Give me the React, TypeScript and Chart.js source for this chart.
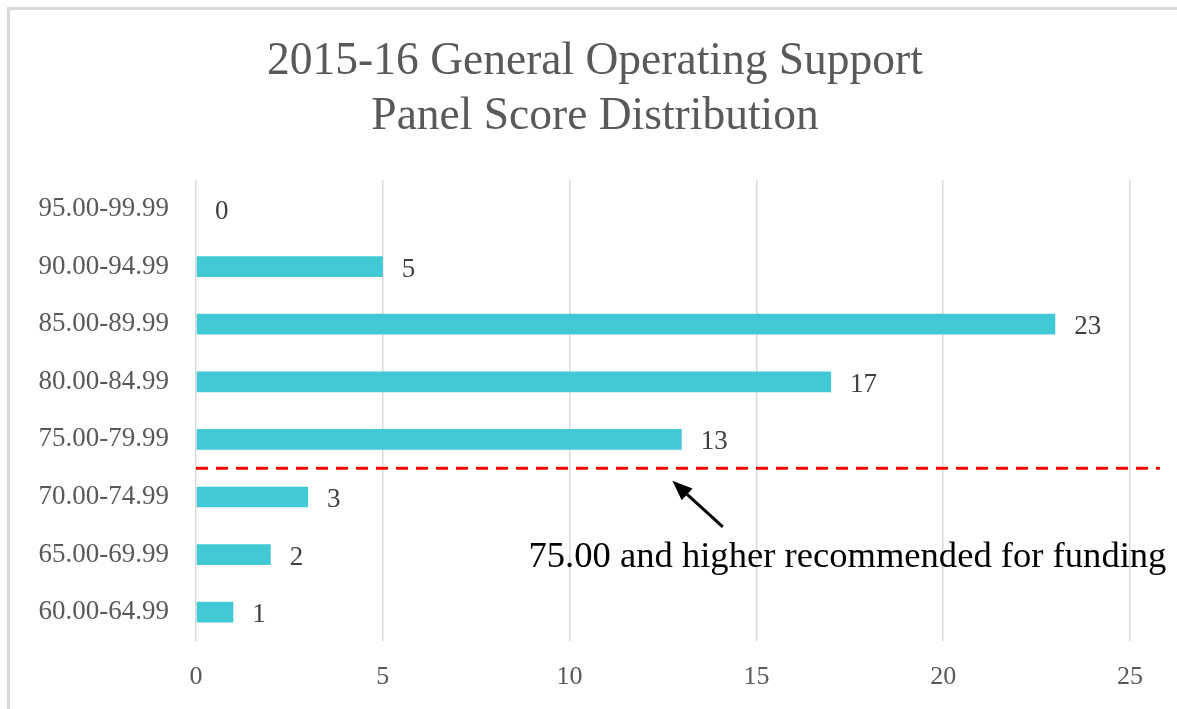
import React, { useEffect, useRef } from "react";
import { Chart, registerables } from "chart.js";

Chart.register(...registerables);

const categories = [
  "95.00-99.99",
  "90.00-94.99",
  "85.00-89.99",
  "80.00-84.99",
  "75.00-79.99",
  "70.00-74.99",
  "65.00-69.99",
  "60.00-64.99",
];
const counts = [0, 5, 23, 17, 13, 3, 2, 1];
const xTickMax = 25;
const xTickStep = 5;
const titleLines = ["2015-16 General Operating Support", "Panel Score Distribution"];
const annotationText = "75.00 and higher recommended for funding";
// threshold between category index 4 and 5
const thresholdIndex = 4.5;
const thresholdLineEnd = 25.8;
const arrowTip = { x: 12.75, y: 4.72 };
const arrowTail = { x: 14.1, y: 5.52 };
const annotationAnchor = { x: 8.9, y: 6.05 };

const FONT = "'Liberation Serif', 'Times New Roman', serif";

const titleShiftPlugin = {
  id: "titleShift",
  afterLayout(chart: any) {
    if (chart.titleBlock) {
      chart.titleBlock.left += 50;
    }
  },
};

const labelsPlugin = {
  id: "valueLabels",
  afterDatasetsDraw(chart: any) {
    const ctx = chart.ctx;
    const meta = chart.getDatasetMeta(0);
    ctx.save();
    ctx.font = `27px ${FONT}`;
    ctx.fillStyle = "#404040";
    ctx.textAlign = "left";
    ctx.textBaseline = "middle";
    meta.data.forEach((bar: any, i: number) => {
      ctx.fillText(String(counts[i]), bar.x + 19, bar.y + 3);
    });
    ctx.restore();
  },
};

const annotationPlugin = {
  id: "threshold",
  afterDraw(chart: any) {
    const ctx = chart.ctx;
    const xs = chart.scales.x;
    const ys = chart.scales.y;
    ctx.save();
    // dashed threshold line
    const yLine = ys.getPixelForValue(thresholdIndex);
    ctx.strokeStyle = "#ff0000";
    ctx.lineWidth = 3;
    ctx.setLineDash([12, 8]);
    ctx.beginPath();
    ctx.moveTo(xs.getPixelForValue(0), yLine);
    ctx.lineTo(xs.getPixelForValue(thresholdLineEnd), yLine);
    ctx.stroke();
    ctx.setLineDash([]);
    // arrow
    const tx = xs.getPixelForValue(arrowTip.x);
    const ty = ys.getPixelForValue(arrowTip.y);
    const sx = xs.getPixelForValue(arrowTail.x);
    const sy = ys.getPixelForValue(arrowTail.y);
    const ang = Math.atan2(ty - sy, tx - sx);
    const headLen = 20;
    const headW = 8;
    const bx = tx - headLen * Math.cos(ang);
    const by = ty - headLen * Math.sin(ang);
    ctx.strokeStyle = "#000000";
    ctx.fillStyle = "#000000";
    ctx.lineWidth = 3;
    ctx.beginPath();
    ctx.moveTo(sx, sy);
    ctx.lineTo(bx, by);
    ctx.stroke();
    ctx.beginPath();
    ctx.moveTo(tx, ty);
    ctx.lineTo(bx + headW * Math.sin(ang), by - headW * Math.cos(ang));
    ctx.lineTo(bx - headW * Math.sin(ang), by + headW * Math.cos(ang));
    ctx.closePath();
    ctx.fill();
    // text
    ctx.font = `36.6px ${FONT}`;
    ctx.fillStyle = "#000000";
    ctx.textAlign = "left";
    ctx.textBaseline = "middle";
    ctx.fillText(
      annotationText,
      xs.getPixelForValue(annotationAnchor.x),
      ys.getPixelForValue(annotationAnchor.y)
    );
    ctx.restore();
  },
};

export default function App() {
  const canvasRef = useRef<HTMLCanvasElement | null>(null);

  useEffect(() => {
    if (!canvasRef.current) return;
    const chart = new Chart(canvasRef.current, {
      type: "bar",
      data: {
        labels: categories,
        datasets: [
          {
            data: counts,
            backgroundColor: "#41C9D5",
            borderWidth: 0,
            barPercentage: 0.36,
            categoryPercentage: 1,
          },
        ],
      },
      options: {
        indexAxis: "y",
        animation: false,
        responsive: true,
        maintainAspectRatio: false,
        layout: { padding: { left: 10, right: 47, top: 0, bottom: 0 } },
        plugins: {
          legend: { display: false },
          tooltip: { enabled: false },
          title: {
            display: true,
            text: titleLines,
            color: "#595959",
            font: { family: FONT, size: 45.5, weight: "normal" },
            padding: { top: 35, bottom: 36 },
          },
        },
        scales: {
          x: {
            min: 0,
            max: xTickMax,
            ticks: {
              stepSize: xTickStep,
              color: "#595959",
              font: { family: FONT, size: 26 },
              padding: 21,
            },
            grid: { color: "#d9d9d9", lineWidth: 1.5, drawTicks: false },
            border: { display: false },
            afterFit: (scale: any) => {
              scale.height = 68;
            },
          },
          y: {
            ticks: {
              color: "#595959",
              font: { family: FONT, size: 27 },
              padding: 27,
            },
            grid: { display: false, drawTicks: false },
            border: { display: false },
            afterFit: (scale: any) => {
              scale.width = 186;
            },
          },
        },
      },
      plugins: [titleShiftPlugin, labelsPlugin, annotationPlugin],
    } as any);
    return () => chart.destroy();
  }, []);

  return (
    <div
      style={{
        position: "fixed",
        left: 0,
        top: 0,
        width: 1177,
        height: 709,
        overflow: "hidden",
        background: "#ffffff",
      }}
    >
      <div
        style={{
          position: "absolute",
          left: 7,
          top: 7,
          width: 1300,
          height: 800,
          border: "3px solid #d9d9d9",
          boxSizing: "border-box",
        }}
      />
      <div style={{ position: "absolute", left: 0, top: 0, width: 1177, height: 709 }}>
        <canvas ref={canvasRef} />
      </div>
    </div>
  );
}
